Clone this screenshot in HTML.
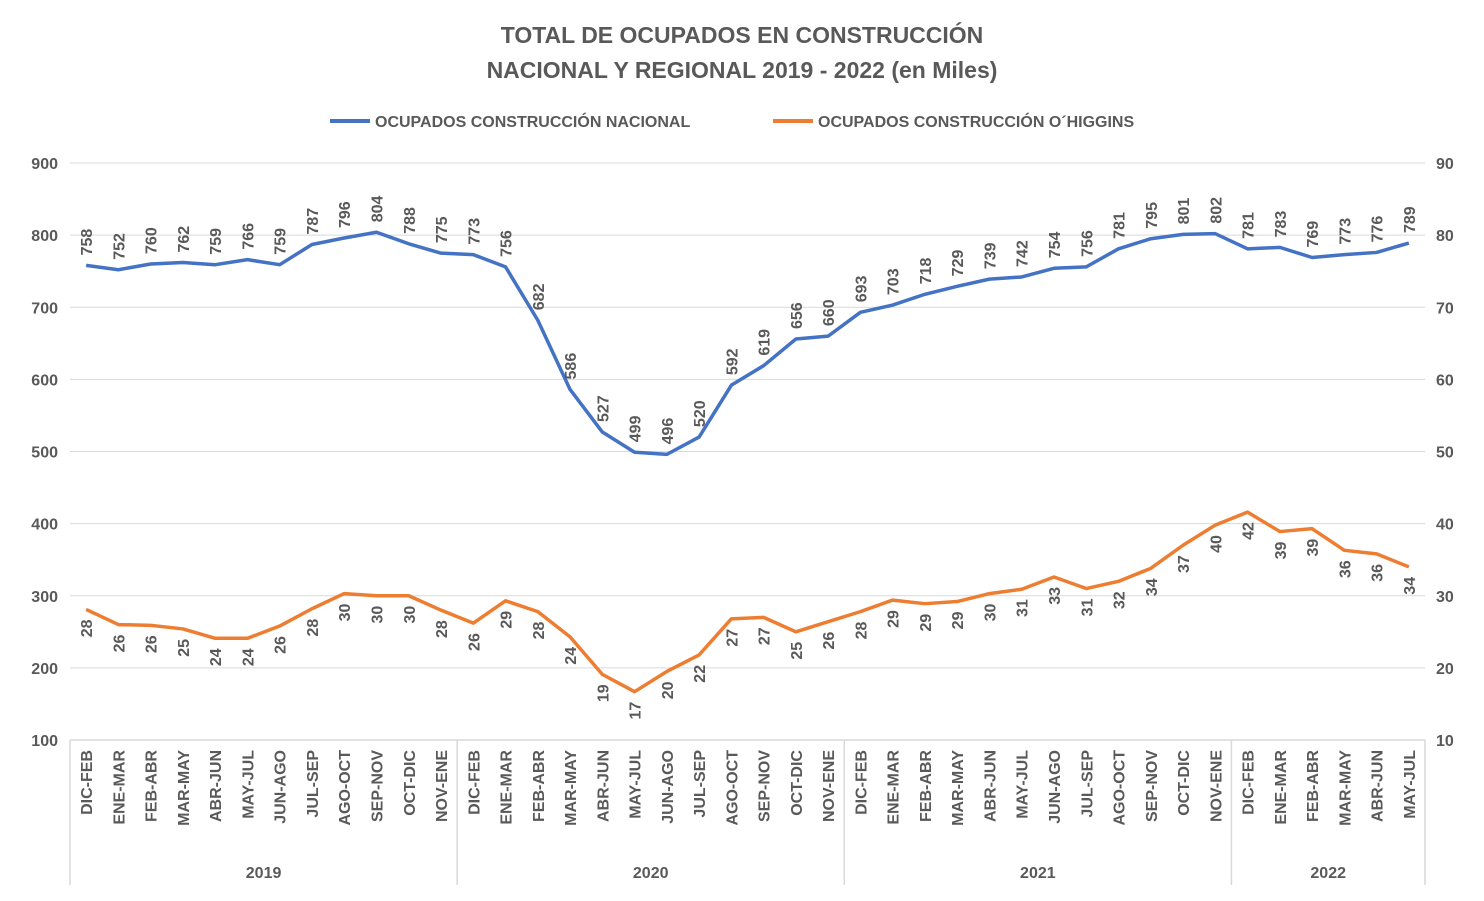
<!DOCTYPE html>
<html><head><meta charset="utf-8"><style>
body{margin:0;background:#fff;}
svg text{font-family:"Liberation Sans",sans-serif;fill:#595959;font-weight:bold;}
</style></head><body>
<svg id="c" width="1484" height="896">
<text x="742" y="43" text-anchor="middle" font-size="23">TOTAL DE OCUPADOS EN CONSTRUCCIÓN</text>
<text x="742" y="78" text-anchor="middle" font-size="23">NACIONAL Y REGIONAL 2019 - 2022 (en Miles)</text>
<g>
<line x1="330" y1="121" x2="370" y2="121" stroke="#4472C4" stroke-width="4"/>
<text x="375" y="127" font-size="16">OCUPADOS CONSTRUCCIÓN NACIONAL</text>
<line x1="773" y1="121" x2="813" y2="121" stroke="#ED7D31" stroke-width="4"/>
<text x="818" y="127" font-size="16">OCUPADOS CONSTRUCCIÓN O´HIGGINS</text>
</g>
<g id="grid"></g><g id="axes"></g><g id="series"></g>
</svg>
<script>
const categories=["DIC-FEB","ENE-MAR","FEB-ABR","MAR-MAY","ABR-JUN","MAY-JUL","JUN-AGO","JUL-SEP","AGO-OCT","SEP-NOV","OCT-DIC","NOV-ENE","DIC-FEB","ENE-MAR","FEB-ABR","MAR-MAY","ABR-JUN","MAY-JUL","JUN-AGO","JUL-SEP","AGO-OCT","SEP-NOV","OCT-DIC","NOV-ENE","DIC-FEB","ENE-MAR","FEB-ABR","MAR-MAY","ABR-JUN","MAY-JUL","JUN-AGO","JUL-SEP","AGO-OCT","SEP-NOV","OCT-DIC","NOV-ENE","DIC-FEB","ENE-MAR","FEB-ABR","MAR-MAY","ABR-JUN","MAY-JUL"];
const years=["2019","2020","2021","2022"];
const yearCounts=[12,12,12,6];
const nacional=[758,752,760,762,759,766,759,787,796,804,788,775,773,756,682,586,527,499,496,520,592,619,656,660,693,703,718,729,739,742,754,756,781,795,801,802,781,783,769,773,776,789];
const ohiggins=[28.1,26.0,25.9,25.4,24.1,24.1,25.8,28.2,30.3,30.0,30.0,28.0,26.2,29.3,27.8,24.3,19.1,16.7,19.5,21.8,26.8,27.0,25.0,26.4,27.8,29.4,28.9,29.2,30.3,30.9,32.6,31.0,32.0,33.8,37.0,39.8,41.6,38.9,39.3,36.3,35.8,34.0];
const leftTicks=[100,200,300,400,500,600,700,800,900];
const rightTicks=[10,20,30,40,50,60,70,80,90];

const NS="http://www.w3.org/2000/svg";
const X0=70,X1=1425,YT=163,YB=740;
const bw=(X1-X0)/categories.length;
const xPos=i=>X0+bw*(i+0.5);
const yL=v=>YB-(v-100)/800*(YB-YT);
const yR=v=>YB-(v-10)/80*(YB-YT);
function mk(tag,attrs,parent,txt){const e=document.createElementNS(NS,tag);for(const k in attrs)e.setAttribute(k,attrs[k]);if(txt!==undefined)e.textContent=txt;parent.appendChild(e);return e;}
const grid=document.getElementById('grid'),axes=document.getElementById('axes'),ser=document.getElementById('series');
leftTicks.forEach((t,i)=>{
  const y=yL(t);
  if(i>0){const g=mk('line',{x1:X0,x2:X1,y1:y,y2:y,stroke:'#d9d9d9','stroke-width':1},grid);
  
  }
  const l=mk('text',{x:58,y:y+6,'text-anchor':'end','font-size':16},axes,t);
  
  
});
rightTicks.forEach(t=>{
  const l=mk('text',{x:1436,y:yR(t)+6,'font-size':16},axes,t);
  
  
});
const ax=mk('line',{x1:X0,x2:X1,y1:YB,y2:YB,stroke:'#d9d9d9','stroke-width':1.5},axes);


categories.forEach((c,i)=>{
  const x=xPos(i);
  const t=mk('text',{x:0,y:0,'text-anchor':'end','font-size':16,transform:`translate(${x+6},750) rotate(-90)`},axes,c);
  
  
});
let acc=0;
for(let k=0;k<=years.length;k++){
  const x=X0+bw*acc;
  const l=mk('line',{x1:x,x2:x,y1:YB,y2:885,stroke:'#d9d9d9','stroke-width':1.5},axes);
  
  
  if(k<years.length){
    const t=mk('text',{x:X0+bw*(acc+yearCounts[k]/2),y:878,'text-anchor':'middle','font-size':16},axes,years[k]);
    
    
    acc+=yearCounts[k];
  }
}
function line(data,yf,color,name){
  const p=mk('polyline',{points:data.map((v,i)=>xPos(i)+','+yf(v)).join(' '),fill:'none',stroke:color,'stroke-width':3.5,'stroke-linejoin':'round'},ser);
  
  
}
line(nacional,yL,'#4472C4','series-nacional');
line(ohiggins,yR,'#ED7D31','series-ohiggins');
nacional.forEach((v,i)=>{
  const t=mk('text',{x:0,y:0,'font-size':16,transform:`translate(${xPos(i)+6},${yL(v)-10}) rotate(-90)`},ser,v);
  
  
});
ohiggins.forEach((v,i)=>{
  const t=mk('text',{x:0,y:0,'font-size':16,'text-anchor':'end',transform:`translate(${xPos(i)+6},${yR(v)+10}) rotate(-90)`},ser,Math.round(v));
  
  
});
</script>
</body></html>
